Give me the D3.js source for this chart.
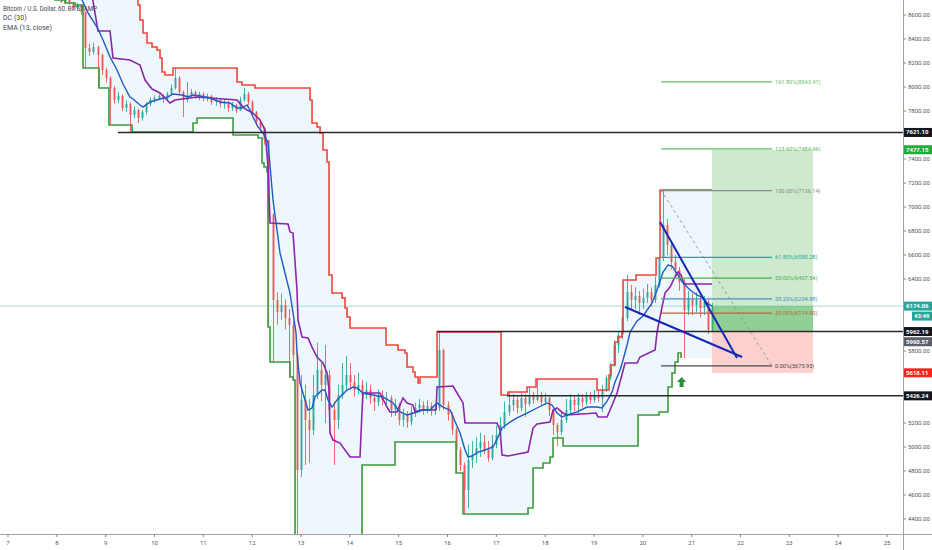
<!DOCTYPE html>
<html><head><meta charset="utf-8">
<script src="https://cdn.jsdelivr.net/npm/d3@7"></script>
<style>body{margin:0;background:#fff}svg{display:block;font-family:Roboto,"Open Sans",sans-serif}</style>
</head><body><svg id="c" width="932" height="550"></svg>
<script>
// ---------- DATA ----------
const candleStartDay = 6 + 22/24;   // first 2h candle: day 6, 22:00
const candleHours = 2;
const firstOpen = 8990;
const closes = [8975,8933,8958,8908,8942,8892,8850,8875,8825,8850,
8808,8775,8792,8742,8708,8725,8692,8658,8683,8625,
8325,8292,8333,8267,8142,8075,7992,7892,7925,7825,
7858,7767,7808,7742,7792,7858,7892,7908,7925,7900,
7942,7992,8075,7958,7892,7933,7958,7925,7942,7908,
7925,7875,7892,7858,7875,7825,7850,7808,7892,7942,
7875,7792,7708,7658,7558,6933,6225,6125,6183,6075,
6017,5767,4808,5392,5225,5142,5433,5642,5517,5600,
5308,5225,5433,5517,5600,5542,5475,5517,5433,5475,
5408,5375,5433,5392,5408,5308,5350,5225,5267,5208,
5292,5325,5350,5308,5342,5308,5325,5808,5350,5267,
5142,4975,4850,4642,4892,4933,4992,5042,4975,4908,
5017,5100,5183,5292,5350,5392,5325,5408,5358,5425,
5392,5425,5375,5408,5308,5183,5125,5225,5308,5392,
5350,5408,5375,5425,5392,5433,5408,5475,5575,5683,
5850,5933,6075,6292,6225,6258,6200,6242,6292,6225,
6350,6575,6850,6683,6542,6475,6375,6142,6242,6183,
6225,6158,6208,5975,6174.06];
const highs = [9010,8990,8980,8970,8960,8950,8905,8895,8885,8870,
8860,8820,8810,8800,8755,8745,8735,8710,8700,8690,
8630,8360,8370,8345,8280,8160,8090,8010,7960,7940,
7890,7870,7840,7820,7810,7875,7910,7930,7945,7940,
7960,8020,8158,8090,7970,8042,7985,7970,7960,7955,
7945,7935,7915,7905,7900,7885,7875,7860,7920,7992,
7960,7890,7800,7720,7670,7560,6950,6290,6280,6230,
6150,6050,5800,5600,5520,5400,5600,5870,5700,5850,
5640,5380,5520,5700,5760,5700,5600,5620,5560,5540,
5520,5450,5480,5470,5460,5430,5400,5370,5320,5300,
5340,5370,5400,5380,5390,5370,5360,5958,5820,5380,
5290,5160,5000,4870,5020,5050,5080,5120,5100,5050,
5100,5180,5250,5380,5458,5440,5420,5450,5440,5500,
5460,5567,5460,5450,5420,5320,5200,5300,5400,5440,
5420,5450,5440,5460,5460,5475,5470,5520,5600,5700,
5890,5958,6100,6433,6350,6330,6300,6320,6360,6330,
6420,6575,7142,6900,6720,6600,6500,6400,6300,6280,
6290,6260,6260,6230,6200];
const lows = [8950,8910,8920,8890,8895,8870,8830,8835,8800,8810,
8790,8750,8755,8725,8700,8700,8683,8640,8645,8600,
8158,8260,8270,7992,8100,8040,7683,7860,7870,7800,
7790,7625,7740,7700,7720,7770,7840,7870,7890,7870,
7880,7930,7980,7940,7750,7870,7910,7900,7890,7880,
7880,7850,7845,7830,7820,7790,7800,7780,7800,7880,
7850,7760,7680,7620,7520,6000,5708,6020,6060,5980,
5583,5558,4150,4750,4850,4870,5100,5400,5380,5200,
5150,4850,5150,5400,5470,5480,5420,5440,5380,5400,
5360,5300,5340,5350,5350,5250,5260,5180,5170,5160,
5180,5250,5290,5270,5280,5260,5270,5300,5310,5220,
5100,4783,4800,4440,4490,4825,4867,4917,4940,4880,
4890,4990,5080,5150,5260,5300,5280,5300,5250,5340,
5360,5380,5340,5350,5260,5100,5008,5100,5200,5280,
5300,5267,5330,5350,5360,5370,5380,5292,5460,5560,
5670,5783,5900,6050,6150,6150,6100,6150,6200,6170,
6200,6330,6550,6600,6480,6420,6300,5740,6100,6100,
6120,6080,6100,5940,5960];

// Donchian channel upper / lower: [day, price] value from that day on (step)
const dcUpper = [[6.836,9100],[9.662,8683],[9.703,8558],[9.765,8450],[9.847,8367],[9.949,8333],[10.051,8308],[10.113,8242],[10.154,8125],[10.215,8100],[10.379,8158],[11.690,8042],[11.792,8017],[12.058,7992],[13.185,7892],[13.226,7700],[13.328,7667],[13.390,7617],[13.451,7475],[13.533,7375],[13.574,6433],[13.635,6283],[13.840,6242],[13.902,6158],[13.943,6083],[14.004,5992],[14.741,5850],[14.987,5808],[15.130,5783],[15.171,5667],[15.294,5625],[15.335,5583],[15.397,5533],[15.437,5583],[15.786,5958],[17.096,5433],[17.240,5458],[17.629,5500],[17.813,5567],[19.062,5475],[19.308,5600],[19.349,5683],[19.431,5875],[19.492,5917],[19.574,5958],[19.595,6392],[19.861,6433],[20.271,6575],[20.353,7142],[21.417,7142]];
const dcLower = [[6.836,8808],[7.963,8725],[8.167,8700],[8.372,8683],[8.536,8158],[8.864,7992],[9.068,7683],[9.539,7625],[10.789,7700],[10.871,7742],[11.608,7600],[12.120,7575],[12.202,7367],[12.243,7333],[12.304,7292],[12.325,6000],[12.366,5708],[12.775,5583],[12.837,5558],[12.878,4058],[14.250,4850],[14.925,5042],[16.175,4783],[16.318,4442],[17.649,4492],[17.752,4825],[17.957,4867],[18.100,4917],[18.161,5075],[18.366,5008],[19.902,5267],[20.332,5292],[20.516,5500],[20.598,5617],[20.659,5708],[20.721,5783],[20.782,5742],[21.417,5742]];
const dcLowerVisibleUntil = 20.782;
// Donchian basis and EMA(13, close)
const dcBasis = [[8.720,8767],[8.843,8467],[9.089,8467],[9.150,8242],[9.498,8225],[9.703,8183],[9.806,8058],[9.949,7983],[10.113,7950],[10.256,7892],[10.318,7867],[10.420,7892],[10.871,7917],[11.690,7892],[11.813,7833],[11.895,7808],[12.017,7783],[12.161,7725],[12.263,7642],[12.325,7333],[12.366,6867],[12.734,6858],[12.775,6792],[12.837,6783],[12.918,6308],[12.939,6058],[13.021,5917],[13.144,5908],[13.226,5833],[13.328,5750],[13.451,5700],[13.533,5617],[13.574,5475],[13.594,5117],[13.656,5058],[13.799,5033],[14.004,4917],[14.209,4917],[14.250,5308],[14.270,5450],[14.618,5450],[14.762,5333],[14.823,5292],[14.966,5292],[15.089,5408],[15.171,5367],[15.294,5350],[15.335,5292],[15.437,5308],[15.765,5308],[15.786,5500],[16.113,5508],[16.195,5450],[16.318,5367],[16.359,5200],[17.014,5200],[17.076,5142],[17.117,4933],[17.240,4925],[17.649,4958],[17.752,5158],[17.833,5192],[18.100,5208],[18.161,5308],[18.243,5325],[18.366,5283],[18.448,5267],[19.042,5283],[19.083,5250],[19.267,5250],[19.329,5308],[19.472,5450],[19.636,5700],[19.882,5700],[19.943,5750],[20.251,5808],[20.291,5958],[20.394,6167],[20.455,6283],[20.557,6333],[20.659,6417],[20.721,6458],[20.782,6433],[20.844,6358],[21.417,6358]];
const ema13 = [[8.065,9058],[8.515,8725],[8.638,8617],[8.823,8500],[8.946,8392],[9.089,8250],[9.232,8142],[9.355,8025],[9.498,7917],[9.560,7900],[9.703,7850],[9.765,7833],[9.908,7875],[10.113,7900],[10.277,7917],[10.379,7942],[10.563,7933],[10.686,7917],[10.789,7933],[10.932,7925],[11.137,7908],[11.342,7875],[11.546,7867],[11.690,7825],[11.792,7825],[11.895,7850],[11.956,7808],[12.017,7750],[12.120,7667],[12.222,7617],[12.325,7533],[12.427,7058],[12.509,6808],[12.570,6617],[12.672,6450],[12.775,6283],[12.837,6117],[12.898,5950],[12.918,5783],[12.980,5533],[13.082,5392],[13.144,5308],[13.226,5325],[13.287,5417],[13.431,5475],[13.492,5475],[13.553,5392],[13.635,5333],[13.738,5392],[13.799,5417],[13.943,5475],[14.065,5500],[14.147,5492],[14.270,5450],[14.475,5433],[14.680,5417],[14.884,5367],[15.028,5292],[15.171,5267],[15.376,5292],[15.499,5308],[15.642,5308],[15.786,5367],[15.908,5333],[16.052,5308],[16.257,5117],[16.359,4975],[16.421,4917],[16.502,4925],[16.625,4958],[16.768,4975],[16.932,5000],[17.035,5083],[17.117,5158],[17.281,5208],[17.424,5242],[17.629,5283],[17.833,5325],[18.038,5367],[18.141,5350],[18.243,5283],[18.346,5250],[18.448,5267],[18.653,5292],[18.857,5333],[19.062,5333],[19.165,5325],[19.267,5383],[19.370,5458],[19.431,5542],[19.534,5642],[19.595,5725],[19.677,5850],[19.739,5958],[19.882,6050],[20.005,6092],[20.189,6200],[20.291,6308],[20.414,6458],[20.516,6517],[20.598,6508],[20.721,6433],[20.824,6367],[20.967,6308],[21.110,6267],[21.233,6242],[21.335,6192],[21.417,6175]];

const dayTicks = [7,8,9,10,11,12,13,14,15,16,17,18,19,20,21,22,23,24,25];
const priceTicks = [8600,8400,8200,8000,7800,7400,7200,7000,6800,6600,6400,5800,5200,5000,4800,4600,4400];
const legendLines = ["Bitcoin / U.S. Dollar, 60, BITSTAMP","DC (30)","EMA (13, close)"];

// horizontal lines drawn on the chart: [fromDay, price]
const hLines = [[9.253,7621.10],[15.786,5962.19],[17.219,5426.24]];
const lastPrice = 6174.06;
// fib extension
const fibFrom = 20.373, fibTo = 22.646;
const fibLevels = ["161.80%","123.60%","100.00%","61.80%","50.00%","38.20%","30.00%","0.00%"];
const fibPrices = [8043.41,7484.46,7136.14,6580.28,6407.54,6234.88,6114.90,5675.93];
const fibTrend = [[20.373,7142],[22.646,5675.93]];
// long position
const posFrom = 21.417, posTo = 23.486;
const posTarget = 7477.15, posEntry = 5960.57, posStop = 5618.11;
// trend lines
const trendLines = [[[20.353,6875],[21.929,5742]],[[19.636,6167],[22.032,5750]]];
const arrowAt = [20.793, 5583];
// price-scale labels
const axisLabels = ["7621.10","7477.15","6174.06","43:49","5962.19","5960.57","5618.11","5426.24"];
const axisLabelPrices = [7621.10,7477.15,6174.06,6174.06,5962.19,5960.57,5618.11,5426.24];

// ---------- STYLE ----------
const C = {up:"#26a69a",down:"#ef5350",upper:"#f0443a",lower:"#3c9a3c",basis:"#8e24aa",ema:"#1e5bc6",fill:"#eef7fc"};
const fibColors = ["#66bb6a","#66bb6a","#8a8a8a","#26a69a","#4caf50","#4a8fc0","#b5653f","#4a4a4a"];
const labelBg = ["#131722","#22ab3a","#26a69a","#26a69a","#131722","#5d606b","#f7251e","#131722"];
const labelOffset = [0,0,0,10,0,10,0,0];

// ---------- DRAW ----------
const svg = d3.select("#c");
const PR = 903, PB = 534;
const x = d3.scaleLinear().domain([7,25]).range([8,887]);
const y = d3.scaleLinear().domain([4400,8600]).range([519,15]);

svg.append("defs").append("clipPath").attr("id","clip").append("rect").attr("x",0).attr("y",0).attr("width",PR).attr("height",PB);
const g = svg.append("g").attr("clip-path","url(#clip)");

function stepVerts(pts){const v=[];pts.forEach((p,i)=>{if(i>0)v.push([p[0],pts[i-1][1]]);v.push(p);});return v;}
const line = d3.line().x(d=>x(d[0])).y(d=>y(d[1]));

// channel fill
const uV = stepVerts(dcUpper), lV = stepVerts(dcLower);
g.append("path").attr("d", line(uV.concat(lV.slice().reverse()))+"Z").attr("fill",C.fill);

// last price line
g.append("line").attr("x1",0).attr("x2",PR).attr("y1",y(lastPrice)).attr("y2",y(lastPrice)).attr("stroke","#a9dcd6").attr("stroke-width",1);

// candles
const candles = closes.map((c,i)=>({d:candleStartDay+i*candleHours/24,o:i?closes[i-1]:firstOpen,h:highs[i],l:lows[i],c}));
const cg = g.append("g");
candles.forEach(k=>{
  const cx = Math.round(x(k.d))+0.5, col = k.c>=k.o?C.up:C.down;
  cg.append("line").attr("x1",cx).attr("x2",cx).attr("y1",y(k.h)).attr("y2",y(k.l)).attr("stroke",col).attr("stroke-width",1).attr("opacity",0.85);
  const top=y(Math.max(k.o,k.c)), bot=y(Math.min(k.o,k.c));
  cg.append("rect").attr("x",cx-1).attr("y",top).attr("width",2).attr("height",Math.max(1,bot-top)).attr("fill",col).attr("opacity",0.85);
});

// channel lines
g.append("path").attr("d",line(uV)).attr("fill","none").attr("stroke",C.upper).attr("stroke-width",1.6);
g.append("path").attr("d",line(lV.filter(p=>p[0]<=dcLowerVisibleUntil))).attr("fill","none").attr("stroke",C.lower).attr("stroke-width",1.6);
g.append("path").attr("d",line(dcBasis)).attr("fill","none").attr("stroke",C.basis).attr("stroke-width",1.6);
g.append("path").attr("d",line(ema13)).attr("fill","none").attr("stroke",C.ema).attr("stroke-width",1.4);

// long position
g.append("rect").attr("x",x(posFrom)).attr("width",x(posTo)-x(posFrom)).attr("y",y(posTarget)).attr("height",y(posEntry)-y(posTarget)).attr("fill","rgba(76,175,80,0.28)");
g.append("rect").attr("x",x(posFrom)).attr("width",x(posTo)-x(posFrom)).attr("y",y(lastPrice)).attr("height",y(posEntry)-y(lastPrice)).attr("fill","rgba(76,175,80,0.45)");
g.append("rect").attr("x",x(posFrom)).attr("width",x(posTo)-x(posFrom)).attr("y",y(posEntry)).attr("height",y(posStop)-y(posEntry)).attr("fill","rgba(244,67,54,0.25)");

// horizontal lines
hLines.forEach(h=>g.append("line").attr("x1",x(h[0])).attr("x2",PR).attr("y1",y(h[1])).attr("y2",y(h[1])).attr("stroke","#2a2a2a").attr("stroke-width",1.5));

// fib
g.append("path").attr("d",line(fibTrend)).attr("stroke","#9a9a9a").attr("stroke-dasharray","3,3").attr("fill","none");
fibLevels.forEach((lv,i)=>{
  const yy=y(fibPrices[i]);
  g.append("line").attr("x1",x(fibFrom)).attr("x2",x(fibTo)).attr("y1",yy).attr("y2",yy).attr("stroke",fibColors[i]).attr("stroke-width",1.3);
  g.append("text").attr("x",x(fibTo)+3).attr("y",yy+2).attr("font-size",5.6).attr("fill",fibColors[i]).text(lv+"("+fibPrices[i].toFixed(2)+")");
});

// trend lines
trendLines.forEach(t=>g.append("path").attr("d",line(t)).attr("stroke","#1626b5").attr("stroke-width",2).attr("fill","none"));
// arrow
const ax=x(arrowAt[0]), ay=y(arrowAt[1]);
g.append("path").attr("d",`M${ax},${ay} l4.5,5 h-2.5 v5 h-4 v-5 h-2.5 Z`).attr("fill","#2e8b3e");

// axes
svg.append("line").attr("x1",PR+0.5).attr("x2",PR+0.5).attr("y1",0).attr("y2",550).attr("stroke","#a0a3ab");
svg.append("line").attr("x1",0).attr("x2",932).attr("y1",PB+0.5).attr("y2",PB+0.5).attr("stroke","#a0a3ab");
priceTicks.forEach(p=>{
  svg.append("line").attr("x1",PR).attr("x2",PR+3).attr("y1",y(p)).attr("y2",y(p)).attr("stroke","#888");
  svg.append("text").attr("x",PR+5).attr("y",y(p)+2).attr("font-size",6).attr("fill","#555").text(d3.format(".2f")(p));
});
dayTicks.forEach(d=>{
  svg.append("line").attr("x1",x(d)).attr("x2",x(d)).attr("y1",PB).attr("y2",PB+3).attr("stroke","#888");
  svg.append("text").attr("x",x(d)).attr("y",PB+11).attr("font-size",6).attr("fill","#555").attr("text-anchor","middle").text(d);
});
// axis labels
axisLabels.forEach((t,i)=>{
  const yy=y(axisLabelPrices[i])+labelOffset[i];
  const narrow = t.indexOf(":")>=0;
  const x0 = narrow?912:PR+1;
  svg.append("rect").attr("x",x0).attr("y",yy-4.5).attr("width",932-x0).attr("height",9).attr("fill",labelBg[i]);
  svg.append("text").attr("x",x0+2).attr("y",yy+2).attr("font-size",6).attr("font-weight","bold").attr("fill","#fff").text(t);
});

// legend
const lw=[94,null,null];
legendLines.forEach((t,i)=>{
  const tx=svg.append("text").attr("x",3).attr("y",11+i*9.3).attr("font-size",7).attr("fill","#434651").text(t);
  if(lw[i]) tx.attr("textLength",lw[i]).attr("lengthAdjust","spacingAndGlyphs");
});
</script></body></html>
